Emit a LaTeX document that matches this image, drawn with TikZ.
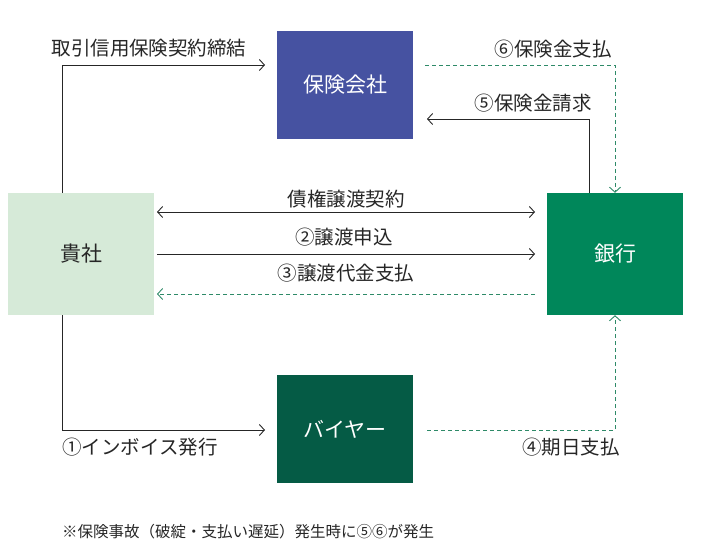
\documentclass[tikz,border=0pt]{standalone}
\usepackage{fontspec}
\newfontfamily\jp{Noto Sans CJK JP}
\usetikzlibrary{arrows.meta}
\definecolor{insc}{HTML}{4652A1}
\definecolor{kishac}{HTML}{D6EAD8}
\definecolor{bankc}{HTML}{00875A}
\definecolor{buyerc}{HTML}{055B45}
\definecolor{dashc}{HTML}{2E8A68}
\begin{document}
\begin{tikzpicture}[x=1pt,y=-1pt,
  box/.style={minimum width=136pt, minimum height=108pt, inner sep=0pt, text=white, font=\jp\fontsize{21}{24}\selectfont},
  lbl/.style={font=\jp\fontsize{19.5}{22}\selectfont, inner sep=0pt, text=black!85},
  tip/.style={-{Straight Barb[length=5pt,width=11pt]}},
  solidarr/.style={draw=black!85, line width=0.9pt, tip},
  dasharr/.style={draw=dashc, line width=0.9pt, dash pattern=on 4pt off 3pt, tip}]
\useasboundingbox (0,0) rectangle (707,553);
\node[box, fill=insc] (ins) at (345,85) {保険会社};
\node[box, fill=kishac, text=black!85, minimum width=146pt, minimum height=122pt] (kisha) at (81,254) {貴社};
\node[box, fill=bankc, minimum height=122pt] (bank) at (615,254) {銀行};
\node[box, fill=buyerc] (buyer) at (345,429) {バイヤー};
% coordinates
\coordinate (c1a) at (62,65);
\coordinate (c1b) at (265,65);
\coordinate (c6a) at (425,65);
\coordinate (c6b) at (615,65);
\coordinate (c5a) at (589,119);
\coordinate (c5b) at (427,119);
\coordinate (l1) at (157,212);
\coordinate (r1) at (535,212);
\coordinate (l2) at (157,254);
\coordinate (r2) at (535,254);
\coordinate (l3) at (157,294);
\coordinate (r3) at (535,294);
\coordinate (b1a) at (62,430);
\coordinate (b1b) at (265,430);
\coordinate (b4a) at (427,430);
\coordinate (b4b) at (615,430);
% connectors
\draw[solidarr] (kisha.north -| c1a) -- (c1a) -- (c1b);
\draw[dasharr] (c6a) -- (c6b) -- (bank.north -| c6b);
\draw[solidarr] (bank.north -| c5a) -- (c5a) -- (c5b);
\draw[solidarr, {Straight Barb[length=5pt,width=11pt]}-{Straight Barb[length=5pt,width=11pt]}] (l1) -- (r1);
\draw[solidarr] (l2) -- (r2);
\draw[dasharr] (r3) -- (l3);
\draw[solidarr] (kisha.south -| b1a) -- (b1a) -- (b1b);
\draw[dasharr] (b4a) -- (b4b) -- (bank.south -| b4b);
% labels
\node[lbl] (t1) at (149,48) {取引信用保険契約締結};
\node[lbl] (t6) at (553,49) {⑥保険金支払};
\node[lbl] (t5) at (533,103) {⑤保険金請求};
\node[lbl] (t0) at (346,199) {債権譲渡契約};
\node[lbl] (t2) at (344,237) {②譲渡申込};
\node[lbl] (t3) at (346,273) {③譲渡代金支払};
\node[lbl, anchor=west] (tb1) at (62,447) {①インボイス発行};
\node[lbl, anchor=east] (tb4) at (620,447) {④期日支払};
\node[font=\jp\fontsize{15.5}{18}\selectfont, inner sep=0pt, anchor=west, text=black!85] (note) at (62,532) {※保険事故（破綻・支払い遅延）発生時に⑤⑥が発生};
\end{tikzpicture}
\end{document}
